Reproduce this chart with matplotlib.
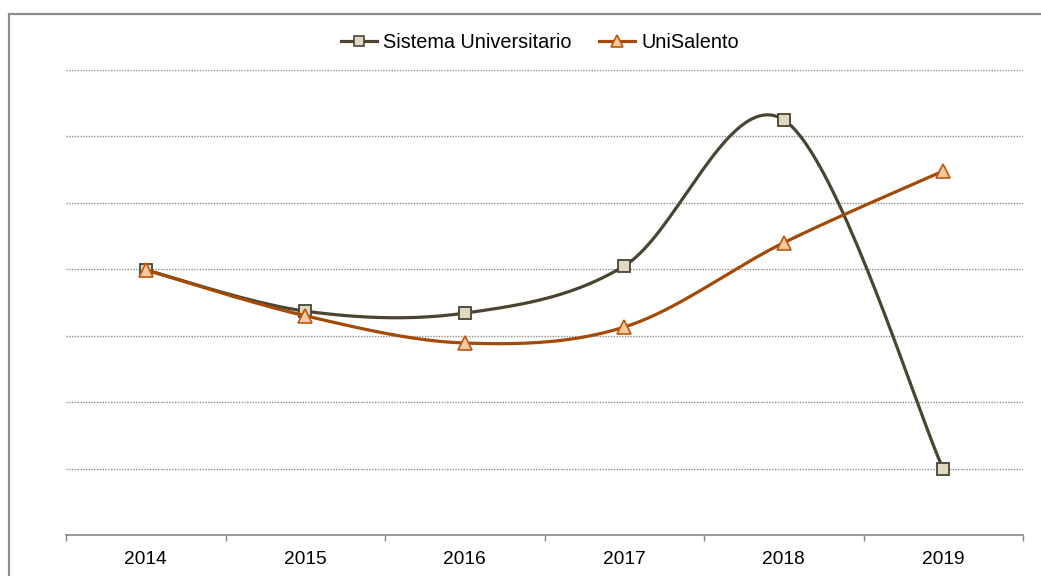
import numpy as np
import matplotlib.pyplot as plt
from matplotlib.lines import Line2D
from matplotlib.patches import Rectangle

plt.rcParams['font.family'] = ['Liberation Sans', 'DejaVu Sans']

# data (y values, in gridline units; the chart has no y labels)
years = ['2014', '2015', '2016', '2017', '2018', '2019']
sistema = [3.99, 3.37, 3.34, 4.05, 6.25, 0.99]
unisalento = [3.99, 3.30, 2.89, 3.13, 4.40, 5.48]

labels = ['Sistema Universitario', 'UniSalento']
col_sis = '#4a4430'
face_sis = '#ddd9c3'
col_uni = '#a34a06'
face_uni = '#fbc9a0'
edge_uni = '#c0560e'


def smooth(y, n=40):
    """Excel style smoothed line (bezier, control points at 1/6 of neighbour span)."""
    y = np.asarray(y, dtype=float)
    x = np.arange(len(y), dtype=float)
    pts = np.column_stack([x, y])
    ext = np.vstack([pts[0], pts, pts[-1]])
    out = []
    t = np.linspace(0, 1, n)[:, None]
    for i in range(len(pts) - 1):
        p0, p3 = ext[i + 1], ext[i + 2]
        c1 = p0 + (ext[i + 2] - ext[i]) / 6.0
        c2 = p3 - (ext[i + 3] - ext[i + 1]) / 6.0
        seg = (1 - t) ** 3 * p0 + 3 * (1 - t) ** 2 * t * c1 + 3 * (1 - t) * t ** 2 * c2 + t ** 3 * p3
        out.append(seg if i == 0 else seg[1:])
    out = np.vstack(out)
    return out[:, 0], out[:, 1]


fig = plt.figure(figsize=(10.41, 5.76), dpi=100)
ax = fig.add_axes([66 / 1041, 41 / 576, (1023 - 66) / 1041, (535 - 70) / 576])

# outer frame of the chart
fig.patches.append(Rectangle((9 / 1041, -0.05), 1.2, (576 - 14) / 576 + 0.05,
                             transform=fig.transFigure, fill=False,
                             edgecolor='#8c8c8c', lw=1.6))

x = np.arange(len(years))

sx, sy = smooth(sistema)
ax.plot(sx, sy, color=col_sis, lw=2.3, clip_on=False, zorder=3)
ax.plot(x, sistema, ls='none', marker='s', ms=8.3, mfc=face_sis, mec=col_sis,
        mew=1.3, clip_on=False, zorder=4)

ux, uy = smooth(unisalento)
ax.plot(ux, uy, color=col_uni, lw=2.3, clip_on=False, zorder=5)
ax.plot(x, unisalento, ls='none', marker='^', ms=10.5, mfc=face_uni, mec=edge_uni,
        mew=1.2, clip_on=False, zorder=6)

ax.set_xlim(-0.5, len(years) - 0.5)
ax.set_ylim(0, 7)

# gridlines
ax.set_yticks(np.arange(1, 8))
ax.yaxis.grid(True, color='#8f8f8f', lw=1.0, ls=(0, (1, 1)))
ax.tick_params(axis='y', left=False, labelleft=False)

# category axis: ticks between categories, labels centred
ax.set_xticks(np.arange(-0.5, len(years), 1.0))
ax.set_xticklabels([])
ax.set_xticks(x, minor=True)
ax.set_xticklabels(years, minor=True, fontsize=13.8)
ax.tick_params(axis='x', which='major', direction='out', length=4, width=1, color='#868686')
ax.tick_params(axis='x', which='minor', length=0, pad=11.5)

for s in ['left', 'top', 'right']:
    ax.spines[s].set_visible(False)
ax.spines['bottom'].set_color('#868686')
ax.spines['bottom'].set_linewidth(1.2)
ax.set_axisbelow(True)

handles = [
    Line2D([], [], color=col_sis, lw=2.3, marker='s', ms=7.5, mfc=face_sis, mec=col_sis, mew=1.2),
    Line2D([], [], color=col_uni, lw=2.3, marker='^', ms=9, mfc=face_uni, mec=edge_uni, mew=1.2),
]
fig.legend(handles, labels, loc='center', bbox_to_anchor=(540 / 1041, 1 - 42 / 576), ncol=2,
           frameon=False, fontsize=14.3, handlelength=1.8, handletextpad=0.3,
           columnspacing=1.4)

fig.savefig('out.png', dpi=100)
